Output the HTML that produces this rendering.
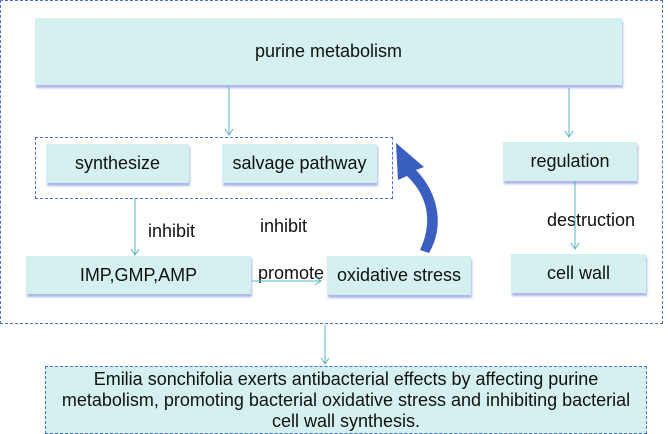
<!DOCTYPE html>
<html><head><meta charset="utf-8"><style>
body{margin:0;width:668px;height:433px;background:#fff;position:relative;font-family:"Liberation Sans",sans-serif;overflow:hidden}
.b{position:absolute;background:#d4f1ef;box-shadow:1px 3px 2px #aab8ea;display:flex;align-items:center;justify-content:center;font-size:18px;color:#111;white-space:nowrap}
.t{position:absolute;font-size:18px;color:#111;white-space:nowrap;line-height:20px}
.d{position:absolute;border:1px dashed #4a72d0}
</style></head><body>
<div class="d" style="left:0;top:0;width:661px;height:322px"></div>
<div class="b" style="left:35px;top:18px;width:587px;height:67px">purine metabolism</div>
<div class="d" style="left:35px;top:137px;width:356px;height:60px"></div>
<div class="b" style="left:46px;top:144px;width:143px;height:39px">synthesize</div>
<div class="b" style="left:222px;top:144px;width:155px;height:39px">salvage pathway</div>
<div class="b" style="left:503px;top:142px;width:134px;height:39px">regulation</div>
<div class="b" style="left:26px;top:256px;width:225px;height:38px">IMP,GMP,AMP</div>
<div class="b" style="left:327px;top:256px;width:144px;height:39px">oxidative stress</div>
<div class="b" style="left:511px;top:254px;width:135px;height:39px">cell wall</div>
<div class="t" style="left:148px;top:221px">inhibit</div>
<div class="t" style="left:260px;top:216px">inhibit</div>
<div class="t" style="left:547px;top:210px">destruction</div>
<div class="t" style="left:258px;top:263px">promote</div>
<div class="d" style="left:45px;top:366px;width:600px;height:66px;background:#d4f1ef;font-size:18px;line-height:21px;text-align:center;color:#111;display:flex;align-items:center;justify-content:center;white-space:nowrap"><span>Emilia sonchifolia exerts antibacterial effects by affecting purine<br>metabolism, promoting bacterial oxidative stress and inhibiting bacterial<br>cell wall synthesis.</span></div>
<svg width="668" height="433" style="position:absolute;left:0;top:0" fill="none" stroke="#5ab4c4" stroke-width="1">
<path d="M229 87V135M225 129L229 135L233 129"/>
<path d="M569 88V137M565 131L569 137L573 131"/>
<path d="M135 198V255M131 249L135 255L139 249"/>
<path d="M575 181V249M571 243L575 249L579 243"/>
<path d="M252 281H321M315 277L321 281L315 285"/>
<path d="M325 325V364M321 358L325 364L329 358"/>
<path d="M396 143L424 167L416 170C440 195 444 228 429 253L420 250C432 225 430 198 407 176L398 180Z" fill="#3b5fc0" stroke="none"/>
</svg>
</body></html>
